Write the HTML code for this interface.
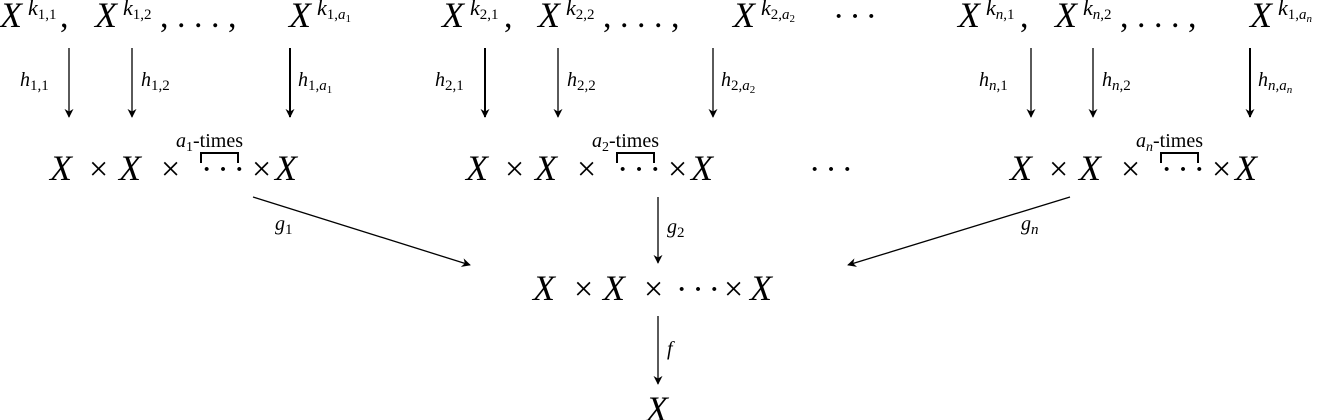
<!DOCTYPE html>
<html><head><meta charset="utf-8"><style>
html,body{margin:0;padding:0;background:#fff;}
svg{display:block;}
text{font-family:"Liberation Serif",serif;fill:#000;}
.m{font-style:italic;font-size:36px;}
.u{font-style:normal;font-size:34px;}
.d{font-style:normal;font-size:34px;letter-spacing:5px;}
.s{font-style:italic;font-size:22px;}
.n{font-style:normal;}
.l{font-style:italic;font-size:20px;}
</style></head><body>
<svg width="1319" height="420" viewBox="0 0 1319 420">
<defs><marker id="ah" viewBox="0 0 10 10" refX="9" refY="5" markerWidth="9" markerHeight="9" markerUnits="userSpaceOnUse" orient="auto"><path d="M0,0 L10,5 L0,10 L3,5 Z" fill="#000"/></marker></defs>
<g>
<text class="m" x="0" y="27">X</text><text class="s" x="28" y="15">k<tspan class="n" font-size="15" dy="4">1,1</tspan></text><text class="u" x="60" y="27">,</text>
<text class="m" x="95" y="27">X</text><text class="s" x="123" y="15">k<tspan class="n" font-size="15" dy="4">1,2</tspan></text><text class="u" x="160" y="27">, . . . ,</text>
<text class="m" x="289" y="27">X</text><text class="s" x="317" y="15">k<tspan class="n" font-size="15" dy="4">1,</tspan><tspan font-size="15">a</tspan><tspan class="n" font-size="11" dy="3">1</tspan></text>
<text class="m" x="442" y="27">X</text><text class="s" x="470" y="15">k<tspan class="n" font-size="15" dy="4">2,1</tspan></text><text class="u" x="504" y="27">,</text>
<text class="m" x="538" y="27">X</text><text class="s" x="566" y="15">k<tspan class="n" font-size="15" dy="4">2,2</tspan></text><text class="u" x="603" y="27">, . . . ,</text>
<text class="m" x="733" y="27">X</text><text class="s" x="761" y="15">k<tspan class="n" font-size="15" dy="4">2,</tspan><tspan font-size="15">a</tspan><tspan class="n" font-size="11" dy="3">2</tspan></text>
<text class="d" x="833" y="27">···</text>
<text class="m" x="958" y="27">X</text><text class="s" x="986" y="15">k<tspan font-size="15" dy="4">n</tspan><tspan class="n" font-size="15">,1</tspan></text><text class="u" x="1020" y="27">,</text>
<text class="m" x="1055" y="27">X</text><text class="s" x="1083" y="15">k<tspan font-size="15" dy="4">n</tspan><tspan class="n" font-size="15">,2</tspan></text><text class="u" x="1120" y="27">, . . . ,</text>
<text class="m" x="1250" y="27">X</text><text class="s" x="1278" y="15">k<tspan class="n" font-size="15" dy="4">1,</tspan><tspan font-size="15">a</tspan><tspan font-size="11" dy="3">n</tspan></text>
</g>
<g stroke="#000" stroke-width="1.3">
<line x1="69" y1="48" x2="69" y2="117" marker-end="url(#ah)"/>
<line x1="132" y1="48" x2="132" y2="117" marker-end="url(#ah)"/>
<line x1="290" y1="48" x2="290" y2="117" marker-end="url(#ah)" stroke-width="2"/>
<line x1="485" y1="48" x2="485" y2="117" marker-end="url(#ah)" stroke-width="2"/>
<line x1="558" y1="48" x2="558" y2="117" marker-end="url(#ah)"/>
<line x1="713" y1="48" x2="713" y2="117" marker-end="url(#ah)"/>
<line x1="1031" y1="48" x2="1031" y2="117" marker-end="url(#ah)"/>
<line x1="1093" y1="48" x2="1093" y2="117" marker-end="url(#ah)"/>
<line x1="1250" y1="48" x2="1250" y2="117" marker-end="url(#ah)" stroke-width="2"/>
</g>
<g>
<text class="l" x="20" y="86">h<tspan class="n" font-size="15" dy="4">1,1</tspan></text>
<text class="l" x="141" y="86">h<tspan class="n" font-size="15" dy="4">1,2</tspan></text>
<text class="l" x="298" y="86">h<tspan class="n" font-size="15" dy="4">1,</tspan><tspan font-size="15">a</tspan><tspan class="n" font-size="11" dy="3">1</tspan></text>
<text class="l" x="435" y="86">h<tspan class="n" font-size="15" dy="4">2,1</tspan></text>
<text class="l" x="567" y="86">h<tspan class="n" font-size="15" dy="4">2,2</tspan></text>
<text class="l" x="721" y="86">h<tspan class="n" font-size="15" dy="4">2,</tspan><tspan font-size="15">a</tspan><tspan class="n" font-size="11" dy="3">2</tspan></text>
<text class="l" x="979" y="86">h<tspan font-size="15" dy="4">n</tspan><tspan class="n" font-size="15">,1</tspan></text>
<text class="l" x="1102" y="86">h<tspan font-size="15" dy="4">n</tspan><tspan class="n" font-size="15">,2</tspan></text>
<text class="l" x="1258" y="86">h<tspan font-size="15" dy="4">n,a</tspan><tspan font-size="11" dy="3">n</tspan></text>
</g>
<g>
<text class="m" x="50" y="180">X</text><text class="u" x="89" y="180">×</text><text class="m" x="119" y="180">X</text><text class="u" x="161" y="180">×</text>
<text class="d" x="201" y="180">···</text><text class="u" x="252" y="180">×</text><text class="m" x="275" y="180">X</text>
<text x="176" y="147" font-size="20"><tspan font-style="italic">a</tspan><tspan font-size="14" dy="4">1</tspan><tspan dy="-4">-times</tspan></text>
<path d="M201,163 V153 H238 V163" fill="none" stroke="#000" stroke-width="2"/>
<text class="m" x="466" y="180">X</text><text class="u" x="505" y="180">×</text><text class="m" x="535" y="180">X</text><text class="u" x="577" y="180">×</text>
<text class="d" x="617" y="180">···</text><text class="u" x="668" y="180">×</text><text class="m" x="691" y="180">X</text>
<text x="592" y="147" font-size="20"><tspan font-style="italic">a</tspan><tspan font-size="14" dy="4">2</tspan><tspan dy="-4">-times</tspan></text>
<path d="M617,163 V153 H654 V163" fill="none" stroke="#000" stroke-width="2"/>
<text class="d" x="809" y="180">···</text>
<text class="m" x="1010" y="180">X</text><text class="u" x="1049" y="180">×</text><text class="m" x="1079" y="180">X</text><text class="u" x="1121" y="180">×</text>
<text class="d" x="1161" y="180">···</text><text class="u" x="1212" y="180">×</text><text class="m" x="1235" y="180">X</text>
<text x="1136" y="147" font-size="20"><tspan font-style="italic">a</tspan><tspan font-style="italic" font-size="14" dy="4">n</tspan><tspan dy="-4">-times</tspan></text>
<path d="M1161,163 V153 H1198 V163" fill="none" stroke="#000" stroke-width="2"/>
</g>
<g stroke="#000" stroke-width="1.3">
<line x1="253" y1="197" x2="470" y2="265" marker-end="url(#ah)"/>
<line x1="658" y1="197" x2="658" y2="263" marker-end="url(#ah)"/>
<line x1="1070" y1="197" x2="848" y2="265" marker-end="url(#ah)"/>
<line x1="658" y1="316" x2="658" y2="384" marker-end="url(#ah)"/>
</g>
<text class="l" x="275" y="230">g<tspan class="n" font-size="15" dy="4">1</tspan></text>
<text class="l" x="667" y="233">g<tspan class="n" font-size="15" dy="4">2</tspan></text>
<text class="l" x="1021" y="230">g<tspan font-size="15" dy="4">n</tspan></text>
<text class="l" x="667" y="355">f</text>
<g>
<text class="m" x="533" y="300">X</text><text class="u" x="574" y="300">×</text><text class="m" x="603" y="300">X</text><text class="u" x="644" y="300">×</text>
<text class="d" x="676" y="300">···</text><text class="u" x="724" y="300">×</text><text class="m" x="750" y="300">X</text>
</g>
<text class="m" x="646" y="421">X</text>
</svg>
</body></html>
